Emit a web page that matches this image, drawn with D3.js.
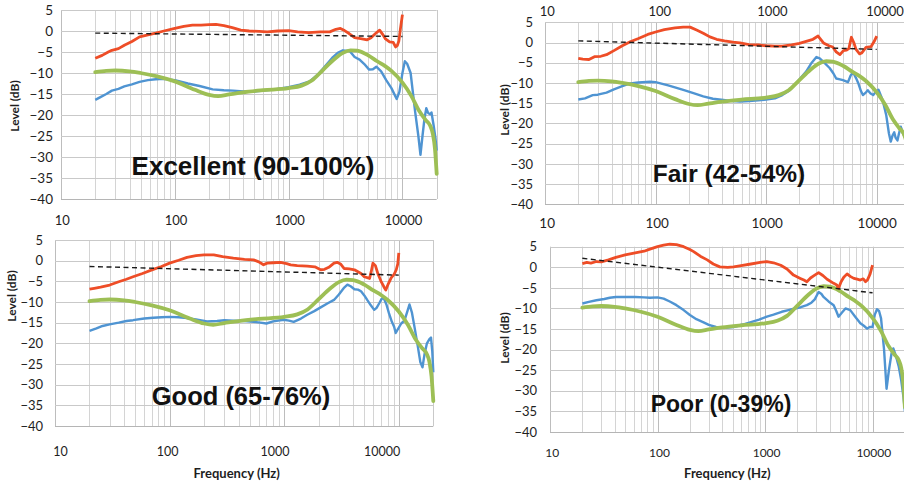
<!DOCTYPE html>
<html>
<head>
<meta charset="utf-8">
<script src="https://cdn.jsdelivr.net/npm/d3@7"></script>
<style>
  html, body { margin: 0; padding: 0; background: #ffffff; }
  svg { display: block; }
</style>
</head>
<body>
<svg id="chart" width="904" height="486"></svg>
<script>
// ---------------- DATA ----------------
const freqTickLabels = [10, 100, 1000, 10000];
const levelTicks = [5, 0, -5, -10, -15, -20, -25, -30, -35, -40];

// Shared target response (green)
const targetCurve = [[20,-9.8],[25,-9.5],[30,-9.4],[40,-9.6],[50,-10],[70,-10.8],[100,-12],[150,-14],[200,-15.2],[240,-15.5],[300,-15.1],[400,-14.6],[600,-14.1],[1000,-13.6],[1300,-13],[1600,-11.8],[2000,-9.3],[2500,-6.8],[3000,-5.2],[3500,-4.6],[4000,-4.7],[5000,-5.8],[6000,-7.2],[7000,-8.3],[8000,-9.5],[10000,-12.3],[12000,-15.5],[14000,-19],[16000,-21.2],[17500,-22.5],[18500,-24.5],[19300,-28],[20000,-34]];

// Excellent (90-100%)
const excellentRed = [[20,-6.5],[23,-5.8],[26,-5.0],[28,-4.6],[32,-4.2],[36,-3.4],[42,-2.5],[49,-1.4],[58,-0.9],[68,-0.5],[80,0],[100,0.6],[120,1.1],[143,1.4],[170,1.4],[200,1.5],[230,1.6],[270,1.3],[320,0.8],[380,0.2],[450,0],[550,-0.1],[650,-0.2],[800,0],[1000,0.1],[1200,-0.2],[1500,-0.4],[1900,-0.2],[2300,-0.2],[2600,0.4],[2850,0.6],[3100,0.1],[3400,-0.6],[3800,-1.6],[4300,-1.8],[4900,-2.1],[5300,-1.6],[5800,-0.6],[6300,0.2],[6700,-0.8],[7100,-1.9],[7700,-2.6],[8300,-2.7],[8700,-3.8],[9000,-3.5],[9300,-2.4],[9600,0.5],[10000,3.9]];
const excellentBlue = [[20,-16.4],[22,-15.8],[25,-15],[28,-14.2],[32,-13.8],[36,-13.2],[42,-12.7],[49,-12.1],[58,-11.7],[68,-11.5],[80,-11.4],[100,-11.7],[130,-12.5],[165,-13.1],[215,-13.9],[270,-14.1],[325,-14.2],[400,-14.4],[490,-14.4],[600,-14.2],[800,-13.8],[1000,-13.4],[1250,-12.8],[1530,-12],[1800,-10.4],[2000,-9],[2250,-7.4],[2450,-6.2],[2700,-5.2],[3000,-4.6],[3450,-4.8],[3800,-6.2],[4200,-6.8],[4600,-7.8],[5100,-9.2],[5500,-9.1],[5900,-8.5],[6500,-9.6],[7200,-11.7],[8000,-13.6],[8900,-16.2],[9400,-14.5],[10000,-10],[10500,-7.2],[11000,-7.8],[11800,-10],[12900,-19],[13800,-25],[14400,-29.5],[15000,-25],[15600,-21],[16200,-18.4],[16800,-19.5],[17500,-19.8],[18000,-19.4],[18800,-22.5],[19500,-25.5],[20000,-28.5]];
const excellentTrend = [[20,-0.5],[10000,-1.3]];

// Fair (42-54%)
const fairRed = [[20,-3.9],[22,-4.1],[25,-4.2],[28,-3.5],[32,-3.4],[36,-3.0],[42,-2],[50,-0.8],[59,0.2],[70,1],[85,2],[100,2.6],[120,3.2],[150,3.6],[178,3.8],[205,3.8],[235,3.1],[270,2.3],[310,1.4],[356,0.8],[420,0.4],[500,0.1],[580,-0.1],[700,-0.5],[850,-0.6],[1000,-0.8],[1200,-0.9],[1400,-0.9],[1700,-0.6],[2000,-0.2],[2300,0.3],[2650,0.8],[2950,1.6],[3300,-0.1],[3700,-0.8],[4000,-1.1],[4300,-2.3],[4650,-3.0],[5000,-2],[5300,-1.9],[5600,-1.5],[5900,1.3],[6200,0],[6500,-1.7],[7000,-2.8],[7300,-2.6],[8000,-1.2],[8900,-1],[9500,0.3],[10000,1.6]];
const fairBlue = [[20,-14.1],[23,-13.8],[27,-13],[30,-12.9],[36,-12.4],[42,-11.6],[50,-10.8],[59,-10.1],[70,-9.9],[89,-9.7],[100,-9.8],[130,-10.6],[178,-11.7],[220,-12.5],[270,-13.3],[330,-13.9],[410,-14.2],[500,-14.5],[580,-14.6],[700,-14.5],[850,-14.3],[1000,-14.1],[1200,-13.8],[1400,-13],[1600,-12],[1850,-10.2],[2050,-8.8],[2300,-7.2],[2550,-5.2],[2850,-3.6],[3050,-3.9],[3300,-4.8],[3750,-6.3],[4050,-7.6],[4300,-8.9],[4650,-9.1],[4950,-9.3],[5500,-9.8],[5800,-8.2],[6100,-7.3],[6500,-8.8],[6800,-10],[7200,-12],[7500,-13],[8000,-12.3],[8300,-11.8],[8800,-12.6],[9300,-13],[9800,-12.2],[10400,-11.7],[11300,-14.2],[12200,-18],[12900,-22.5],[13400,-24.5],[13900,-23],[14400,-22.2],[14800,-23.5],[15400,-24.2],[15900,-22.5],[16500,-20.8],[17300,-22.5],[18500,-24],[20000,-26]];
const fairTrend = [[20,0.4],[10000,-1.7]];

// Good (65-76%)
const goodRed = [[20,-6.9],[22,-6.7],[25,-6.4],[30,-5.9],[36,-5.1],[42,-4.5],[48,-3.9],[58,-3.1],[72,-2.1],[85,-1.4],[100,-0.6],[120,0.1],[142,0.8],[170,1.2],[200,1.4],[243,1.4],[290,1],[360,0.6],[450,0.3],[540,0.2],[600,-0.3],[660,-1],[710,-0.6],[800,-0.5],[930,-0.4],[1050,-0.7],[1140,-1],[1300,-1.2],[1590,-1.3],[1850,-1.5],[2080,-2.2],[2250,-2.1],[2450,-1.6],[2720,-0.6],[2900,-0.4],[3100,-0.8],[3340,-1.9],[3700,-2],[4100,-2.2],[4680,-3.1],[5000,-3.9],[5560,-4.3],[5750,-2.6],[5950,-0.6],[6250,-1.2],[6600,-3.3],[7000,-5],[7400,-6.3],[7700,-7.1],[8100,-5.6],[8600,-4.1],[9100,-3.3],[9500,-2.2],[9800,-0.8],[10000,1.9]];
const goodBlue = [[20,-17],[23,-16.4],[26,-15.8],[30,-15.4],[36,-15],[42,-14.6],[48,-14.4],[60,-14],[72,-13.8],[85,-13.7],[100,-13.6],[120,-13.7],[142,-13.9],[170,-14.2],[212,-14.7],[260,-14.6],[300,-14.4],[360,-14.5],[450,-14.6],[540,-14.8],[620,-15],[700,-15.2],[800,-14.7],[990,-14.3],[1100,-14.5],[1210,-14.8],[1400,-14],[1590,-13.1],[1830,-12.2],[2080,-11.3],[2400,-10.3],[2720,-9.5],[3000,-8.2],[3340,-6.5],[3560,-5.8],[3800,-6.2],[4100,-6.9],[4400,-7],[4680,-7.4],[5000,-8.4],[5300,-9.5],[5700,-10.8],[6100,-11.9],[6400,-11.4],[6750,-10.3],[7100,-9.2],[7400,-9.1],[7800,-10.6],[8200,-12.7],[8700,-14.8],[9100,-16],[9400,-17.5],[9800,-16.6],[10500,-15.2],[11200,-14.5],[11800,-12.5],[12400,-10.6],[13000,-12.5],[13800,-16.5],[14600,-20.5],[15400,-24.5],[16100,-25.8],[16800,-22.5],[17600,-20],[18500,-19],[19100,-18.6],[19600,-22],[20000,-27]];
const goodTrend = [[20,-1.4],[10000,-3.5]];

// Poor (0-39%)
const poorRed = [[20,0.9],[22,1.2],[24,1],[27,1.4],[30,1.3],[35,1.8],[41,2.4],[50,3],[62,3.5],[75,3.9],[85,4.4],[100,5],[114,5.4],[130,5.6],[150,5.5],[175,5],[200,4.3],[217,3.8],[250,2.7],[290,1.8],[330,0.8],[380,0.1],[450,0],[510,0.1],[600,0.4],[740,0.8],[900,1.2],[1040,1.4],[1200,1.1],[1400,0.5],[1600,-0.4],[1840,-1.9],[2130,-2.7],[2300,-3.1],[2450,-3.5],[2650,-2.6],[2830,-2.1],[3150,-1.3],[3450,-2],[3780,-2.9],[4350,-3.9],[4650,-4.3],[4830,-5.1],[5100,-3.5],[5400,-2.4],[5800,-1.6],[6200,-2.2],[6700,-2.7],[7200,-2.9],[7700,-3.1],[8200,-2.8],[8600,-3.5],[9000,-3],[9500,-1.6],[10000,0.5]];
const poorBlue = [[20,-8.8],[23,-8.4],[27,-8],[32,-7.7],[36,-7.4],[41,-7.2],[50,-7.2],[62,-7.2],[75,-7.3],[85,-7.4],[100,-7.3],[114,-7.6],[130,-8.3],[150,-9.2],[175,-10.4],[200,-11.6],[230,-12.6],[265,-13.3],[300,-14],[350,-14.5],[420,-14.7],[510,-14.5],[620,-13.9],[740,-13.3],[880,-12.7],[1040,-12],[1200,-11.5],[1430,-10.8],[1650,-10.4],[1890,-10],[2150,-9.7],[2450,-9.2],[2700,-8.6],[2900,-7.8],[3150,-6],[3350,-6.5],[3500,-7.2],[3900,-8.3],[4350,-9.2],[4600,-10.6],[4830,-12],[5200,-11],[5600,-10],[6200,-10.4],[6900,-12],[7700,-13.6],[8300,-14.2],[8900,-14.9],[9400,-14.5],[10000,-14.5],[10500,-11.5],[11000,-10.2],[11500,-10.6],[12000,-12.4],[12800,-20],[13500,-29.5],[14200,-25],[15000,-21],[15600,-19.7],[16500,-21.5],[17500,-24],[18500,-27.5],[19400,-31.5],[20000,-35]];
const poorTrend = [[20,2.2],[10000,-6.2]];

// ---------------- LAYOUT ----------------
const COLORS = { red: "#ee4d27", blue: "#4f94d2", green: "#9dbf55", dash: "#1a1a1a" };
const panels = [
  { title: "Excellent (90-100%)", red: excellentRed, blue: excellentBlue, trend: excellentTrend,
    x0: 61, x1: 436.7, yTop: 10, yBot: 199,
    tickFont: 13.5, yLabelGap: 8, xLabels: { l10: 61.7, l10k: 403, y: 220, size: 13 },
    level: { x: 15, y: 106 }, titleSize: 26, titleX: 253, titleY: 175 },
  { title: "Fair (42-54%)", red: fairRed, blue: fairBlue, trend: fairTrend,
    x0: 545, x1: 910, yTop: 22.3, yBot: 204.3,
    tickFont: 13, yLabelGap: 12, xLabels: { l10: 546.7, l10k: 876.7, y: 223, size: 13.5 },
    topLabels: { l10: 546.7, l10k: 884.5, y: 11.7, size: 13 },
    level: { x: 505, y: 110 }, titleSize: 24.5, titleX: 729, titleY: 181.7 },
  { title: "Good (65-76%)", red: goodRed, blue: goodBlue, trend: goodTrend,
    x0: 55, x1: 433.3, yTop: 240, yBot: 426,
    tickFont: 13, yLabelGap: 12, xLabels: { l10: 60, l10k: 381.7, y: 452, size: 12.5 },
    xTitle: { x: 236.7, y: 473 },
    level: { x: 12, y: 296 }, titleSize: 25.5, titleX: 241, titleY: 405 },
  { title: "Poor (0-39%)", red: poorRed, blue: poorBlue, trend: poorTrend,
    x0: 550, x1: 904.9, yTop: 246.7, yBot: 432,
    tickFont: 13, yLabelGap: 13, xLabels: { l10: 551.7, l10k: 873.3, y: 452.7, size: 12 },
    xTitle: { x: 727.3, y: 473.3 },
    level: { x: 505, y: 338 }, titleSize: 23, titleX: 721, titleY: 411.7 }
];

const svg = d3.select("#chart");
const tickFamily = "Lato, 'Open Sans', 'DejaVu Sans', sans-serif";
const titleFamily = "'Liberation Sans', Arial, sans-serif";

panels.forEach(p => {
  const x = d3.scaleLog().domain([10, 20000]).range([p.x0, p.x1]);
  const y = d3.scaleLinear().domain([5, -40]).range([p.yTop, p.yBot]);
  const g = svg.append("g");

  // vertical gridlines (log minor + major)
  const vt = x.ticks();
  g.append("g").selectAll("line").data(vt).join("line")
    .attr("x1", d => Math.round(x(d)) + 0.5).attr("x2", d => Math.round(x(d)) + 0.5)
    .attr("y1", y(5)).attr("y2", y(-40))
    .attr("stroke", d => (Math.log10(d) % 1 === 0) ? "#bdbdbd" : "#d4d4d4")
    .attr("stroke-width", 1);
  // horizontal gridlines
  g.append("g").selectAll("line").data(levelTicks).join("line")
    .attr("x1", x(10)).attr("x2", x(20000))
    .attr("y1", d => Math.round(y(d)) + 0.5).attr("y2", d => Math.round(y(d)) + 0.5)
    .attr("stroke", d => d === -40 ? "#b5b5b5" : "#c9c9c9").attr("stroke-width", 1);
  // right edge
  g.append("line").attr("x1", Math.round(x(20000)) + 0.5).attr("x2", Math.round(x(20000)) + 0.5)
    .attr("y1", y(5)).attr("y2", y(-40)).attr("stroke", "#c9c9c9");

  // y axis labels
  const yAxis = d3.axisLeft(y).tickValues(levelTicks).tickSize(0).tickPadding(p.yLabelGap);
  const ya = g.append("g").attr("transform", `translate(${x(10)},0)`).call(yAxis);
  ya.select(".domain").remove();
  ya.selectAll("text").attr("font-family", tickFamily).attr("font-size", p.tickFont).attr("fill", "#1e1e1e");

  // x axis labels (bottom)
  const xl = d3.scaleLog().domain([10, 10000]).range([p.xLabels.l10, p.xLabels.l10k]);
  const xAxis = d3.axisBottom(xl).tickValues(freqTickLabels).tickFormat(d3.format("d")).tickSize(0).tickPadding(0);
  const xa = g.append("g").attr("transform", `translate(0,${p.xLabels.y})`).call(xAxis);
  xa.select(".domain").remove();
  xa.selectAll("text").attr("font-family", tickFamily).attr("font-size", p.xLabels.size)
    .attr("fill", "#1e1e1e").attr("dy", "0.35em");

  if (p.topLabels) {
    const xt = d3.scaleLog().domain([10, 10000]).range([p.topLabels.l10, p.topLabels.l10k]);
    const ta = g.append("g").attr("transform", `translate(0,${p.topLabels.y})`)
      .call(d3.axisBottom(xt).tickValues(freqTickLabels).tickFormat(d3.format("d")).tickSize(0).tickPadding(0));
    ta.select(".domain").remove();
    ta.selectAll("text").attr("font-family", tickFamily).attr("font-size", p.topLabels.size)
      .attr("fill", "#1e1e1e").attr("dy", "0.35em");
  }

  // axis titles
  g.append("text")
    .attr("transform", `translate(${p.level.x},${p.level.y}) rotate(-90)`)
    .attr("text-anchor", "middle").attr("dy", "0.35em")
    .attr("font-family", tickFamily).attr("font-weight", "bold").attr("font-size", 12)
    .attr("fill", "#1e1e1e").text("Level (dB)");
  if (p.xTitle) {
    g.append("text").attr("x", p.xTitle.x).attr("y", p.xTitle.y)
      .attr("text-anchor", "middle").attr("dy", "0.35em")
      .attr("font-family", tickFamily).attr("font-weight", "bold").attr("font-size", 13)
      .attr("fill", "#1e1e1e").text("Frequency (Hz)");
  }

  const lineLin = d3.line().x(d => x(d[0])).y(d => y(d[1]));
  const lineSmooth = d3.line().x(d => x(d[0])).y(d => y(d[1])).curve(d3.curveMonotoneX);

  // blue measured
  g.append("path").datum(p.blue).attr("d", lineLin)
    .attr("fill", "none").attr("stroke", COLORS.blue).attr("stroke-width", 2.4)
    .attr("stroke-linejoin", "round");
  // green target
  g.append("path").datum(targetCurve).attr("d", lineSmooth)
    .attr("fill", "none").attr("stroke", COLORS.green).attr("stroke-width", 3.8)
    .attr("stroke-linejoin", "round").attr("stroke-linecap", "round");
  // red
  g.append("path").datum(p.red).attr("d", lineLin)
    .attr("fill", "none").attr("stroke", COLORS.red).attr("stroke-width", 2.8)
    .attr("stroke-linejoin", "round");
  // dashed trend
  g.append("path").datum(p.trend).attr("d", lineLin)
    .attr("fill", "none").attr("stroke", COLORS.dash).attr("stroke-width", 1.4)
    .attr("stroke-dasharray", "5,3.5");

  // panel title
  g.append("text").attr("x", p.titleX).attr("y", p.titleY)
    .attr("text-anchor", "middle")
    .attr("font-family", titleFamily).attr("font-weight", "bold").attr("font-size", p.titleSize)
    .attr("fill", "#111").text(p.title);
});
</script>
</body>
</html>
